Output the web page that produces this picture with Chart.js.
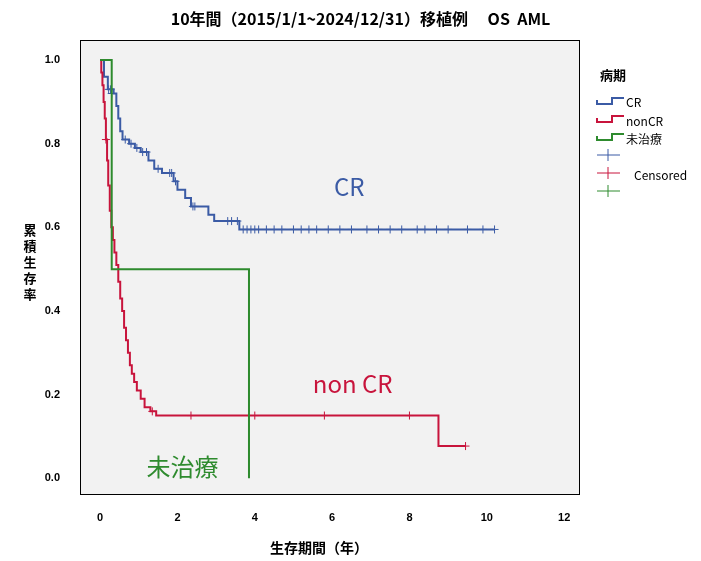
<!DOCTYPE html>
<html><head><meta charset="utf-8">
<script src="https://cdn.jsdelivr.net/npm/chart.js@4"></script>
<style>
body{margin:0;background:#fff;font-family:"Noto Sans CJK JP","DejaVu Sans",sans-serif;}
#wrap{position:relative;width:701px;height:561px;}
.t{position:absolute;color:#000;}
</style></head><body>
<div id="wrap">
<canvas id="c" width="701" height="561"></canvas>
<div class="t" style="left:0;width:701px;top:6px;text-align:center;font-weight:bold;font-size:16px;padding-left:20px;box-sizing:border-box">10年間（2015/1/1~2024/12/31）移植例　 OS &nbsp;AML</div>
<div class="t" style="left:22px;top:222px;width:16px;font-weight:bold;font-size:13px;line-height:16px;text-align:center">累<br>積<br>生<br>存<br>率</div>
<div class="t" style="left:270px;top:537px;font-weight:bold;font-size:14px">生存期間（年）</div>
<div class="t" style="left:600px;top:65px;font-weight:bold;font-size:13px">病期</div>
<div class="t" style="left:626px;top:93px;font-size:12px">CR</div>
<div class="t" style="left:626px;top:112px;font-size:12px">nonCR</div>
<div class="t" style="left:626px;top:130px;font-size:12px">未治療</div>
<div class="t" style="left:634px;top:166px;font-size:12px">Censored</div>
</div>
<script>
const crT=[0,0.1,0.2,0.35,0.42,0.47,0.52,0.58,0.75,0.9,1.05,1.25,1.4,1.6,1.9,2.0,2.2,2.35,2.8,2.95,3.6,10.2];
const crS=[1,0.96,0.93,0.92,0.89,0.86,0.83,0.81,0.80,0.79,0.78,0.76,0.74,0.73,0.71,0.69,0.67,0.65,0.63,0.615,0.595,0.595];
const crCT=[0.22,0.27,0.3,0.65,0.8,0.95,1.1,1.2,1.5,1.8,1.85,1.95,2.4,2.45,3.3,3.4,3.55,3.7,3.8,3.9,4.0,4.1,4.3,4.5,4.7,5.0,5.2,5.4,5.6,5.9,6.2,6.5,6.9,7.2,7.5,7.8,8.2,8.4,8.7,9.0,9.5,9.9,10.2];
const crCS=[0.93,0.93,0.92,0.81,0.80,0.79,0.78,0.78,0.74,0.73,0.73,0.71,0.65,0.65,0.615,0.615,0.615,0.595,0.595,0.595,0.595,0.595,0.595,0.595,0.595,0.595,0.595,0.595,0.595,0.595,0.595,0.595,0.595,0.595,0.595,0.595,0.595,0.595,0.595,0.595,0.595,0.595,0.595];
const ncT=[0,0.03,0.06,0.09,0.12,0.15,0.18,0.21,0.25,0.29,0.33,0.37,0.42,0.47,0.52,0.57,0.62,0.67,0.72,0.77,0.82,0.88,0.95,1.05,1.15,1.3,1.45,8.75,9.45];
const ncS=[1,0.97,0.94,0.90,0.86,0.81,0.76,0.70,0.64,0.60,0.57,0.54,0.51,0.47,0.43,0.40,0.36,0.33,0.30,0.27,0.25,0.23,0.21,0.19,0.17,0.16,0.15,0.077,0.077];
const ncCT=[0.15,1.35,2.35,4.0,5.8,8.0,9.45];
const ncCS=[0.81,0.16,0.15,0.15,0.15,0.15,0.077];
const unT=[0,0.3,3.85,3.85];
const unS=[1,0.5,0.0,0.0];
const xTicks=[0,2,4,6,8,10,12];
const yTicks=[0,0.2,0.4,0.6,0.8,1.0];
const BLUE='#3b5ba5',RED='#c8143c',GREEN='#2e8b2e';
const pts=(t,s)=>t.map((v,i)=>({x:v,y:s[i]}));
const plug={id:'bg',
beforeDraw(c){const a=c.chartArea,x=c.ctx;x.save();x.fillStyle='#f2f2f2';x.fillRect(a.left,a.top,a.right-a.left,a.bottom-a.top);x.restore();},
afterDraw(c){const a=c.chartArea,x=c.ctx,sx=c.scales.x,sy=c.scales.y;x.save();x.strokeStyle='#000';x.lineWidth=1;x.strokeRect(a.left+0.5,a.top+0.5,a.right-a.left-1,a.bottom-a.top-1);
x.font='24px "Noto Sans CJK JP",sans-serif';x.textBaseline='alphabetic';
x.fillStyle=BLUE;x.fillText('CR',sx.getPixelForValue(6.05),sy.getPixelForValue(0.675));
x.fillStyle=RED;x.fillText('non CR',sx.getPixelForValue(5.5),sy.getPixelForValue(0.205));
x.fillStyle=GREEN;x.fillText('未治療',sx.getPixelForValue(1.2),sy.getPixelForValue(0.005));
const L=[[BLUE,101],[RED,119],[GREEN,137]];x.lineWidth=2;
L.forEach(([col,y])=>{x.strokeStyle=col;x.beginPath();x.moveTo(597,y-1);x.lineTo(597,y+3);x.lineTo(612,y+3);x.lineTo(612,y-3);x.lineTo(624,y-3);x.stroke();});
x.lineWidth=1;[[BLUE,155],[RED,173],[GREEN,191]].forEach(([col,y])=>{x.strokeStyle=col;x.beginPath();x.moveTo(597,y);x.lineTo(620,y);x.moveTo(608,y-6);x.lineTo(608,y+6);x.stroke();});
x.restore();}};
const line=(d,col)=>({data:d,borderColor:col,borderWidth:2,stepped:true,pointRadius:0,fill:false});
const cens=(d,col)=>({data:d,borderColor:col,showLine:false,pointStyle:'cross',pointRadius:4,borderWidth:1,pointHoverRadius:4});
new Chart(document.getElementById('c'),{type:'line',
data:{datasets:[line(pts(unT,unS),GREEN),line(pts(ncT,ncS),RED),line(pts(crT,crS),BLUE),cens(pts(crCT,crCS),BLUE),cens(pts(ncCT,ncCS),RED)]},
options:{responsive:false,animation:false,events:[],
layout:{padding:{left:0,top:40,right:121,bottom:0}},
plugins:{legend:{display:false},tooltip:{enabled:false}},
scales:{
x:{type:'linear',min:-0.52,max:12.41,grid:{display:false},border:{display:false},
afterBuildTicks:s=>{s.ticks=xTicks.map(v=>({value:v}));},
afterFit:s=>{s.height=66;},
ticks:{color:'#000',font:{size:11,weight:'bold'},padding:8}},
y:{type:'linear',min:-0.04,max:1.048,grid:{display:false},border:{display:false},
afterBuildTicks:s=>{s.ticks=yTicks.map(v=>({value:v}));},
afterFit:s=>{s.width=80;},
ticks:{color:'#000',font:{size:11,weight:'bold'},padding:12,callback:v=>v.toFixed(1)}}}},
plugins:[plug]});
</script></body></html>
